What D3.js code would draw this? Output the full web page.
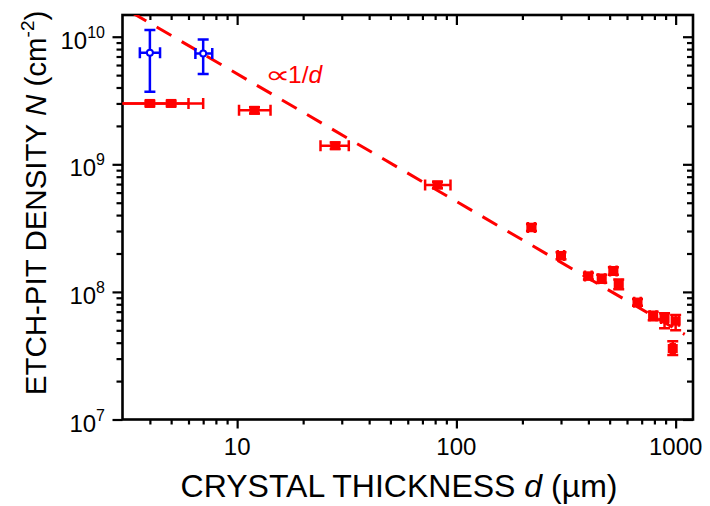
<!DOCTYPE html>
<html><head><meta charset="utf-8">
<script src="https://cdn.jsdelivr.net/npm/d3@7"></script>
<style>body{margin:0;background:#fff;} text{font-family:"Liberation Sans",Arial,sans-serif;}</style>
</head><body><svg id="c" width="710" height="506"></svg>
<script>
// ---- data ----
const redD   = [4, 5, 12, 28, 82, 220, 300, 400, 460, 520, 550, 670, 790, 890, 1000, 970];
const redN   = [3.0e9, 3.0e9, 2.65e9, 1.4e9, 6.9e8, 3.2e8, 1.93e8, 1.33e8, 1.27e8, 1.46e8, 1.15e8, 8.3e7, 6.5e7, 6.2e7, 5.9e7, 3.6e7];
const redDLo = [2.5, 2.8, 10.2, 24, 72, 212, 290, 386, 444, 502, 531, 647, 762, 859, 965, 950];
const redDHi = [6, 7, 14.2, 32.3, 94, 228, 310, 414, 476, 538, 569, 693, 818, 921, 1035, 990];
const redNLo = [2.85e9, 2.85e9, 2.5e9, 1.32e9, 6.5e8, 3.0e8, 1.8e8, 1.25e8, 1.18e8, 1.36e8, 1.05e8, 7.8e7, 6.0e7, 5.2e7, 5.0e7, 3.2e7];
const redNHi = [3.15e9, 3.15e9, 2.8e9, 1.48e9, 7.3e8, 3.4e8, 2.05e8, 1.41e8, 1.36e8, 1.56e8, 1.25e8, 8.8e7, 7.0e7, 6.8e7, 6.6e7, 4.1e7];

const blueD   = [4, 7];
const blueN   = [7.5e9, 7.4e9];
const blueDLo = [3.6, 6.45];
const blueDHi = [4.45, 7.7];
const blueNLo = [3.7e9, 5.1e9];
const blueNHi = [1.13e10, 9.5e9];

const fitD = [3.3, 1100];
const fitN = [1.55e10, 4.65e7];

const xMajor = [10, 100, 1000];
const xMinor = [4,5,6,7,8,9,20,30,40,50,60,70,80,90,200,300,400,500,600,700,800,900];
const yMajor = [1e7, 1e8, 1e9, 1e10];
const yExp   = ["7", "8", "9", "10"];
const yMinor = [2e7,3e7,4e7,5e7,6e7,7e7,8e7,9e7,2e8,3e8,4e8,5e8,6e8,7e8,8e8,9e8,2e9,3e9,4e9,5e9,6e9,7e9,8e9,9e9];

// ---- layout ----
const L = 122.5, R = 693, T = 15, B = 419.5;
const x = d3.scaleLog().domain([3, 1200]).range([L, R]);
const y = d3.scaleLog().domain([1e7, 1.48e10]).range([B, T]);
const svg = d3.select("#c");
const RED = "#ff0000", BLUE = "#0000ff";

svg.append("defs").append("clipPath").attr("id", "clip")
  .append("rect").attr("x", L).attr("y", T).attr("width", R - L).attr("height", B - T);

// axes ticks
function ax(gen, tr, vals, size) {
  const g = svg.append("g").attr("transform", tr)
    .call(gen.tickValues(vals).tickSize(size).tickFormat(""));
  g.select(".domain").remove();
  g.selectAll("line").attr("stroke", "#000").attr("stroke-width", 2.2);
  return g;
}
ax(d3.axisBottom(x), `translate(0,${B})`, xMajor, 9);
ax(d3.axisBottom(x), `translate(0,${B})`, xMinor, 5);
ax(d3.axisTop(x), `translate(0,${T})`, xMajor, -10);
ax(d3.axisTop(x), `translate(0,${T})`, xMinor, -5);
ax(d3.axisLeft(y), `translate(${L},0)`, yMajor, 10);
ax(d3.axisLeft(y), `translate(${L},0)`, yMinor, 6);
ax(d3.axisRight(y), `translate(${R},0)`, yMajor, -10);
ax(d3.axisRight(y), `translate(${R},0)`, yMinor, -6);

// frame
svg.append("rect").attr("x", L).attr("y", T).attr("width", R - L).attr("height", B - T)
  .attr("fill", "none").attr("stroke", "#000").attr("stroke-width", 2.6);

// tick labels
svg.append("g").selectAll("text").data(xMajor).join("text")
  .attr("x", d => x(d)).attr("y", 455).attr("text-anchor", "middle")
  .attr("font-size", 24).text(d => d);
const yl = svg.append("g").selectAll("text").data(yMajor).join("text")
  .attr("x", 105).attr("y", d => y(d) + 12).attr("text-anchor", "end").attr("font-size", 24);
yl.append("tspan").text("10");
yl.append("tspan").attr("dy", -11).attr("font-size", 16).text((d, i) => yExp[i]);

// axis titles
const xt = svg.append("text").attr("x", 399).attr("y", 497).attr("text-anchor", "middle").attr("font-size", 32);
xt.append("tspan").text("CRYSTAL THICKNESS ");
xt.append("tspan").attr("font-style", "italic").text("d");
xt.append("tspan").text(" (µm)");

const yt = svg.append("text").attr("transform", "translate(46,203) rotate(-90)")
  .attr("text-anchor", "middle").attr("font-size", 29.5);
yt.append("tspan").text("ETCH-PIT DENSITY ");
yt.append("tspan").attr("font-style", "italic").text("N");
yt.append("tspan").text(" (cm");
yt.append("tspan").attr("dy", -12).attr("font-size", 19).text("-2");
yt.append("tspan").attr("dy", 12).text(")");

// plot area
const plot = svg.append("g").attr("clip-path", "url(#clip)");

// fit line
plot.append("path")
  .datum(fitD.map((d, i) => [d, fitN[i]]))
  .attr("d", d3.line().x(p => x(p[0])).y(p => y(p[1])))
  .attr("fill", "none").attr("stroke", RED).attr("stroke-width", 3)
  .attr("stroke-dasharray", "17,12");

function errbars(color, D, N, DLo, DHi, NLo, NHi) {
  const g = plot.append("g").attr("stroke", color).attr("stroke-width", 2.5).attr("fill", "none");
  D.forEach((d, i) => {
    const cx = x(d), cy = y(N[i]);
    const x0 = x(DLo[i]), x1 = x(DHi[i]), y0 = y(NLo[i]), y1 = y(NHi[i]);
    g.append("line").attr("x1", x0).attr("x2", x1).attr("y1", cy).attr("y2", cy);
    g.append("line").attr("x1", x0).attr("x2", x0).attr("y1", cy - 5.5).attr("y2", cy + 5.5);
    g.append("line").attr("x1", x1).attr("x2", x1).attr("y1", cy - 5.5).attr("y2", cy + 5.5);
    g.append("line").attr("x1", cx).attr("x2", cx).attr("y1", y0).attr("y2", y1);
    g.append("line").attr("x1", cx - 5.5).attr("x2", cx + 5.5).attr("y1", y0).attr("y2", y0);
    g.append("line").attr("x1", cx - 5.5).attr("x2", cx + 5.5).attr("y1", y1).attr("y2", y1);
  });
}
errbars(RED, redD, redN, redDLo, redDHi, redNLo, redNHi);
errbars(BLUE, blueD, blueN, blueDLo, blueDHi, blueNLo, blueNHi);

plot.append("g").selectAll("rect").data(redD).join("rect")
  .attr("x", d => x(d) - 5).attr("y", (d, i) => y(redN[i]) - 4.5)
  .attr("width", 10).attr("height", 9).attr("fill", RED);

plot.append("g").selectAll("circle").data(blueD).join("circle")
  .attr("cx", d => x(d)).attr("cy", (d, i) => y(blueN[i])).attr("r", 3)
  .attr("fill", "#fff").attr("stroke", BLUE).attr("stroke-width", 2);

// annotation
svg.append("text").attr("transform", "translate(265,83) scale(1.55,1.05)")
  .attr("font-family", "DejaVu Sans").attr("font-size", 23).attr("fill", RED).text("∝");
const an = svg.append("text").attr("x", 288).attr("y", 83).attr("font-size", 24.5).attr("fill", RED);
an.append("tspan").text("1/");
an.append("tspan").attr("font-style", "italic").text("d");
</script></body></html>
